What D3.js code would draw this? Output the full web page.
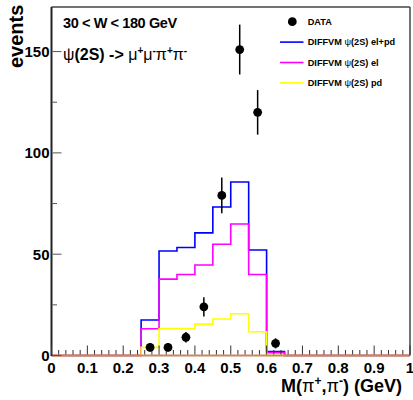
<!DOCTYPE html>
<html><head><meta charset="utf-8">
<script src="https://cdn.jsdelivr.net/npm/d3@7"></script>
<style>
body{margin:0;background:#fff;}
svg{display:block;font-family:"Liberation Sans",Arial,sans-serif;}
</style></head>
<body><svg id="c" width="413" height="400"></svg>
<script>
// ---- data ----
const binEdges = [0.25,0.30,0.35,0.40,0.45,0.50,0.55,0.60,0.65];
const elpd = [17.5,51.6,53.3,60.5,73.3,85.6,52.1,1.9];
const el   = [13.2,37.7,40.0,44.7,54.9,64.9,40.0,1.4];
const pd   = [4.0,13.2,13.2,15.5,18.0,20.6,11.7,0];
const dataX = [0.275,0.325,0.375,0.425,0.475,0.525,0.575,0.625];
const dataY = [4,4,9,24,79,151,120,6];
const dataErr = [2,2,2.6,4.8,8.8,12.3,11,2.5];
const xTicks = [0,0.1,0.2,0.3,0.4,0.5,0.6,0.7,0.8,0.9,1];
const xTickLabels = ["0","0.1","0.2","0.3","0.4","0.5","0.6","0.7","0.8","0.9","1"];
const yTicks = [0,50,100,150];
const legendItems = [
  {type:"dot",label:[["DATA",true]]},
  {type:"line",color:"#0000ff",label:[["DIFFVM ",true],["ψ",false],["(2S) el+pd",true]]},
  {type:"line",color:"#ff00ff",label:[["DIFFVM ",true],["ψ",false],["(2S) el",true]]},
  {type:"line",color:"#ffff00",label:[["DIFFVM ",true],["ψ",false],["(2S) pd",true]]}
];

const svg = d3.select("#c");
const L=51.5,R=410,T=7,B=355.5;
const x = d3.scaleLinear().domain([0,1]).range([L,R]);
const y = d3.scaleLinear().domain([0,172]).range([B,T]);

// histograms
function histPath(vals){
  const pts=[[0,0],[binEdges[0],0]];
  vals.forEach((v,i)=>{pts.push([binEdges[i],v]);pts.push([binEdges[i+1],v]);});
  pts.push([binEdges[binEdges.length-1],0]);pts.push([1,0]);
  return d3.line().x(d=>x(d[0])).y(d=>y(d[1]))(pts);
}
[[elpd,"#0000ff"],[el,"#ff00ff"],[pd,"#ffff00"]].forEach(([v,c])=>{
  svg.append("path").attr("d",histPath(v)).attr("fill","none").attr("stroke",c).attr("stroke-width",1.6);
});

// baseline (brownish overlap)
svg.append("line").attr("x1",x(0)).attr("x2",x(1)).attr("y1",y(0)).attr("y2",y(0))
  .attr("stroke","#c8875f").attr("stroke-width",2);

// frame
svg.append("line").attr("x1",L).attr("x2",R).attr("y1",T).attr("y2",T).attr("stroke","#444").attr("stroke-width",1.5);
svg.append("line").attr("x1",R).attr("x2",R).attr("y1",T).attr("y2",B).attr("stroke","#444").attr("stroke-width",1.5);
svg.append("line").attr("x1",L).attr("x2",L).attr("y1",T).attr("y2",B+0.5).attr("stroke","#222").attr("stroke-width",2);

// x ticks
const xMinor = d3.range(0,51).map(i=>i/50);
xMinor.forEach(v=>{
  const major = Math.abs(v*10-Math.round(v*10))<1e-6;
  svg.append("line").attr("x1",x(v)).attr("x2",x(v)).attr("y1",B-1).attr("y2",B-1-(major?9:4.5))
    .attr("stroke","#333").attr("stroke-width",1);
});
xTicks.forEach((v,i)=>{
  svg.append("text").attr("x",x(v)).attr("y",372.5).attr("text-anchor","middle")
    .attr("font-weight","bold").attr("font-size",15).text(xTickLabels[i]);
});
// y ticks
d3.range(0,175,25).forEach(v=>{
  const major = v%50===0;
  svg.append("line").attr("x1",L+1).attr("x2",L+1+(major?9:4.5)).attr("y1",y(v)).attr("y2",y(v))
    .attr("stroke","#555").attr("stroke-width",1);
});
yTicks.forEach(v=>{
  svg.append("text").attr("x",49.5).attr("y",y(v)+5.4).attr("text-anchor","end")
    .attr("font-weight","bold").attr("font-size",15).text(v);
});

// axis titles
svg.append("text").attr("transform","translate(23.3,68) rotate(-90)")
  .attr("font-weight","bold").attr("font-size",20).text("events");
const xt = svg.append("text").attr("x",402).attr("y",392).attr("text-anchor","end")
  .attr("font-weight","bold").attr("font-size",18);
xt.append("tspan").text("M(");
xt.append("tspan").attr("font-weight","normal").text("π");
xt.append("tspan").attr("dy",-7).attr("font-size",12).text("+");
xt.append("tspan").attr("dy",7).text(",");
xt.append("tspan").attr("font-weight","normal").text("π");
xt.append("tspan").attr("dy",-7).attr("font-size",12).text("-");
xt.append("tspan").attr("dy",7).text(") (GeV)");

// header texts
svg.append("text").attr("x",63).attr("y",28).attr("font-weight","bold").attr("font-size",14.5)
  .attr("letter-spacing",-0.4).text("30 < W < 180 GeV");
const h2 = svg.append("text").attr("x",63).attr("y",60).attr("font-size",16);
h2.append("tspan").text("ψ");
h2.append("tspan").attr("font-weight","bold").text("(2S) -> ");
[["μ","+"],["μ","-"],["π","+"],["π","-"]].forEach(([s,q],i)=>{
  h2.append("tspan").attr("dy",i===0?0:6).text(s);
  h2.append("tspan").attr("dy",-6).attr("font-size",10).attr("font-weight","bold").text(q);
});

// data points
dataX.forEach((xv,i)=>{
  svg.append("line").attr("x1",x(xv)).attr("x2",x(xv)).attr("y1",y(dataY[i]-dataErr[i])).attr("y2",y(dataY[i]+dataErr[i]))
    .attr("stroke","#000").attr("stroke-width",1.5);
  svg.append("circle").attr("cx",x(xv)).attr("cy",y(dataY[i])).attr("r",4.4).attr("fill","#000");
});

// legend
legendItems.forEach((it,i)=>{
  const cy = 21.7 + i*20.4;
  if(it.type==="dot") svg.append("circle").attr("cx",292.3).attr("cy",cy).attr("r",4.4).attr("fill","#000");
  else svg.append("line").attr("x1",280).attr("x2",303.5).attr("y1",cy).attr("y2",cy).attr("stroke",it.color).attr("stroke-width",1.6);
  const t = svg.append("text").attr("x",307.7).attr("y",cy+3.3).attr("font-size",9.2);
  it.label.forEach(([s,b])=>t.append("tspan").attr("font-weight",b?"bold":"normal").text(s));
});
</script></body></html>
